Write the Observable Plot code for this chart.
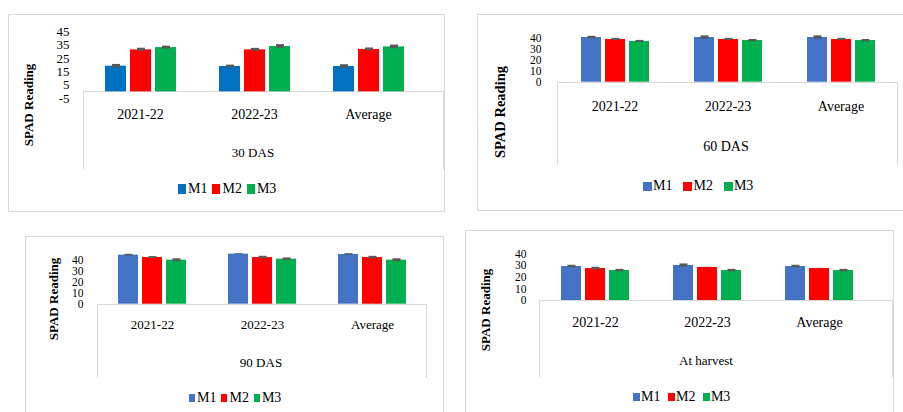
<!DOCTYPE html>
<html><head><meta charset="utf-8">
<script src="https://cdn.jsdelivr.net/npm/d3@7"></script>
<script src="https://cdn.jsdelivr.net/npm/@observablehq/plot@0.6"></script>
<style>
html,body{margin:0;padding:0;background:#fff;}
#root{position:relative;width:903px;height:412px;overflow:hidden;background:#fff;font-family:"Liberation Serif","Tinos","DejaVu Serif",serif;color:#000;}
.panel{position:absolute;box-sizing:border-box;border:1px solid #d9d9d9;}
.box{position:absolute;box-sizing:border-box;border:1px solid #d9d9d9;border-bottom:none;}
.plotwrap{position:absolute;}
.plotwrap svg{display:block;}
.ytitle{position:absolute;transform:translate(-50%,-50%) rotate(-90deg);white-space:nowrap;font-weight:bold;line-height:1;}
.title{position:absolute;transform:translate(-50%,-50%);white-space:nowrap;line-height:1;}
.legend{position:absolute;display:flex;align-items:center;height:16px;white-space:nowrap;font-size:14px;line-height:1;}
.legend .item{display:flex;align-items:center;}
.legend .sw{display:inline-block;}
</style></head><body><div id="root"></div>
<script>
// ---- data ----
const categories = ["2021-22", "2022-23", "Average"];
const series = ["M1", "M2", "M3"];
const ticks30 = [-5, 5, 15, 25, 35, 45];
const ticksOther = [0, 10, 20, 30, 40];
const titles = ["30 DAS", "60 DAS", "90 DAS", "At harvest"];
const yTitle = "SPAD Reading";
const colors30 = ["#0070C0", "#FF0000", "#00B050"];
const colorsOther = ["#4472C4", "#FF0000", "#00B050"];
// values: [category][series]
const das30 = [[19.3, 31.6, 33.3], [19.1, 31.6, 34.1], [19.1, 31.9, 33.8]];
const das30Err = [[1.3, 1.2, 1.1], [1.0, 1.1, 1.4], [1.3, 1.1, 1.4]];
const das60 = [[41.2, 39.4, 37.5], [41.2, 39.4, 38.4], [41.2, 39.4, 38.4]];
const das60Err = [[1.1, 1.0, 1.0], [1.5, 1.0, 1.0], [1.5, 1.0, 1.0]];
const das90 = [[44.9, 42.7, 40.3], [45.8, 42.7, 41.2], [45.5, 42.7, 40.3]];
const das90Err = [[0.75, 0.9, 1.3], [0.4, 1.15, 1.15], [0.75, 1.15, 1.3]];
const harvest = [[29.2, 27.5, 25.8], [30.1, 28.4, 25.8], [29.2, 27.5, 25.8]];
const harvestErr = [[1.1, 1.1, 1.0], [1.35, 0.15, 1.0], [1.1, 0.15, 1.0]];

const FONT = '"Liberation Serif", "Tinos", "DejaVu Serif", serif';

// ---- layout ----
const layouts = [
  {values: das30, errs: das30Err, colors: colors30, ticks: ticks30, domain: [-5, 45], title: titles[0],
   panel: [8, 14, 437, 198], svg: [8, 14, 436, 197], m: {top: 17.5, right: 19, bottom: 113, left: 75},
   box: [83, 91.3, 361, 78], ytick: {pad: 14, size: 13}, fx: {pad: 10.7, size: 14},
   ytitle: [28, 104.5, 13], tpos: [253, 152, 13], leg: {x: 178, y: 189, sw: 8, sh: 10, gap: 5, tgap: 2}},
  {values: das60, errs: das60Err, colors: colorsOther, ticks: ticksOther, domain: [0, 40], title: titles[1],
   panel: [477, 14, 440, 197], svg: [478, 15, 425, 195], m: {top: 23.3, right: 5, bottom: 128.3, left: 79},
   box: [557, 81.7, 341, 82.3], ytick: {pad: 17, size: 11.5}, fx: {pad: 18.7, size: 14},
   ytitle: [500, 112, 14.5], tpos: [726, 147, 14], leg: {x: 643, y: 186, sw: 9, sh: 9, gap: 11, tgap: 1}},
  {values: das90, errs: das90Err, colors: colorsOther, ticks: ticksOther, domain: [0, 40], title: titles[2],
   panel: [25, 236, 419, 200], svg: [25, 237, 418, 175], m: {top: 23, right: 16, bottom: 108.3, left: 72},
   box: [97, 303.7, 330, 74.3], ytick: {pad: 14, size: 11.5}, fx: {pad: 16, size: 13},
   ytitle: [53, 298.5, 13], tpos: [261, 362, 13], leg: {x: 189, y: 398, sw: 6, sh: 8, gap: 5, tgap: 2}},
  {values: harvest, errs: harvestErr, colors: colorsOther, ticks: ticksOther, domain: [0, 40], title: titles[3],
   panel: [465, 230, 429, 200], svg: [465, 231, 428, 181], m: {top: 22.5, right: 18, bottom: 112, left: 74},
   box: [539, 300, 354, 77], ytick: {pad: 13, size: 11.5}, fx: {pad: 16.4, size: 14},
   ytitle: [485, 310, 13], tpos: [706, 360, 13], leg: {x: 633, y: 397, sw: 7, sh: 8, gap: 7.5, tgap: 1}}
];

const root = document.getElementById("root");
function el(cls, css, text) {
  const d = document.createElement("div");
  d.className = cls;
  Object.assign(d.style, css);
  if (text != null) d.textContent = text;
  root.appendChild(d);
  return d;
}

layouts.forEach(L => {
  el("panel", {left: L.panel[0] + "px", top: L.panel[1] + "px", width: L.panel[2] + "px", height: L.panel[3] + "px"});
  el("box", {left: L.box[0] + "px", top: L.box[1] + "px", width: L.box[2] + "px", height: L.box[3] + "px"});

  const data = [];
  categories.forEach((c, i) => series.forEach((s, j) =>
    data.push({cat: c, series: s, value: L.values[i][j], err: L.errs[i][j]})));

  const chart = Plot.plot({
    width: L.svg[2], height: L.svg[3],
    marginTop: L.m.top, marginRight: L.m.right, marginBottom: L.m.bottom, marginLeft: L.m.left,
    style: {fontFamily: FONT, fontSize: "13px", color: "#000", background: "transparent", overflow: "visible"},
    fx: {domain: categories, padding: 0},
    x: {domain: series, paddingInner: 0.18, paddingOuter: 0.86, axis: null},
    y: {domain: L.domain},
    color: {domain: series, range: L.colors},
    marks: [
      Plot.barY(data, {fx: "cat", x: "series", y: "value", fill: "series"}),
      Plot.ruleX(data, {fx: "cat", x: "series", y1: d => d.value - d.err, y2: d => d.value + d.err, stroke: "#595959", strokeWidth: 8}),
      Plot.axisY({ticks: L.ticks, tickSize: 0, tickPadding: L.ytick.pad, tickFormat: d => String(d), label: null, fontSize: L.ytick.size}),
      Plot.axisFx({anchor: "bottom", tickSize: 0, tickPadding: L.fx.pad, label: null, fontSize: L.fx.size})
    ]
  });
  const wrap = el("plotwrap", {left: L.svg[0] + "px", top: L.svg[1] + "px", width: L.svg[2] + "px", height: L.svg[3] + "px"});
  wrap.appendChild(chart);

  el("ytitle", {left: L.ytitle[0] + "px", top: L.ytitle[1] + "px", fontSize: L.ytitle[2] + "px"}, yTitle);
  el("title", {left: L.tpos[0] + "px", top: L.tpos[1] + "px", fontSize: L.tpos[2] + "px"}, L.title);

  const leg = el("legend", {left: L.leg.x + "px", top: (L.leg.y - 8) + "px", gap: L.leg.gap + "px"});
  series.forEach((s, j) => {
    const item = document.createElement("span");
    item.className = "item";
    const sw = document.createElement("span");
    sw.className = "sw";
    Object.assign(sw.style, {width: L.leg.sw + "px", height: L.leg.sh + "px", background: L.colors[j], marginRight: L.leg.tgap + "px"});
    const t = document.createElement("span");
    t.textContent = s;
    item.appendChild(sw); item.appendChild(t);
    leg.appendChild(item);
  });
});
</script></body></html>
